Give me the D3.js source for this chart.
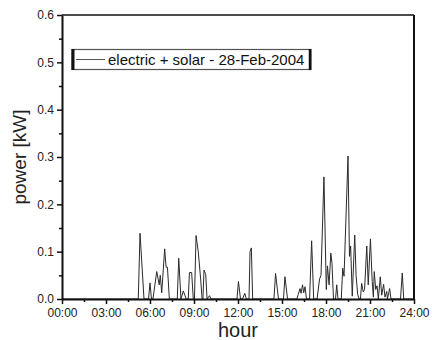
<!DOCTYPE html>
<html>
<head>
<meta charset="utf-8">
<script src="https://cdn.jsdelivr.net/npm/d3@7"></script>
<style>
  body { margin: 0; background: #fff; }
  svg { display: block; font-family: "Liberation Sans", Arial, sans-serif; }
</style>
</head>
<body>
<div id="chart"></div>
<script>
// power readings for 28-Feb-2004 (hour of day, kW)
const hours = [
  0, 5.20, 5.32, 5.59, 5.90, 6.00, 6.10, 6.20, 6.46, 6.63, 6.70, 6.80, 7.00, 7.10, 7.19, 7.32,
  7.86, 7.96, 8.11, 8.27, 8.39, 8.46, 8.61, 8.69, 8.84, 8.95, 9.03, 9.14, 9.29, 9.46, 9.55,
  9.61, 9.68, 9.80, 9.89, 10.06, 10.16,
  11.93, 12.03, 12.17, 12.31, 12.46, 12.57, 12.75, 12.82, 12.91, 13.00,
  14.45, 14.56, 14.76, 15.10, 15.20, 15.38,
  16.02, 16.11, 16.23, 16.30, 16.40, 16.48, 16.57, 16.67, 16.88, 17.02, 17.16,
  17.39, 17.56, 17.66, 17.86, 18.02, 18.10, 18.21, 18.33, 18.41, 18.51, 18.65, 18.73, 18.82,
  19.04, 19.14, 19.23, 19.50, 19.60, 19.68, 19.79, 19.96, 20.05, 20.16, 20.25,
  20.35, 20.43, 20.54, 20.63, 20.78, 20.88, 21.03, 21.15, 21.23, 21.29, 21.39, 21.48, 21.57,
  21.70, 21.80, 21.93, 22.02, 22.14, 22.19, 22.34, 22.43,
  23.08, 23.20, 23.30, 24
];
const power = [
  0, 0, 0.139, 0, 0, 0.034, 0, 0, 0.058, 0.030, 0.050, 0.013, 0.106, 0.067, 0.067, 0,
  0, 0.086, 0, 0.017, 0.007, 0, 0, 0.056, 0.056, 0, 0, 0.134, 0.100, 0.040, 0,
  0, 0.061, 0.052, 0, 0.007, 0,
  0, 0.037, 0, 0, 0.012, 0, 0, 0.100, 0.108, 0,
  0, 0.054, 0, 0, 0.047, 0,
  0, 0.010, 0.022, 0.012, 0.030, 0.013, 0.026, 0, 0, 0.123, 0,
  0, 0.042, 0.050, 0.258, 0.020, 0.070, 0.030, 0.097, 0.075, 0, 0, 0.030, 0,
  0, 0.065, 0.048, 0.302, 0.090, 0.112, 0.006, 0.135, 0.050, 0.010, 0,
  0, 0.033, 0.015, 0.020, 0.112, 0.030, 0.127, 0.037, 0.004, 0.058, 0.020, 0.028, 0,
  0.047, 0.008, 0.031, 0.004, 0.016, 0, 0.022, 0,
  0, 0.055, 0, 0
];

const xTicks = [0, 3, 6, 9, 12, 15, 18, 21, 24];
const xMinorTicks = [1.5, 4.5, 7.5, 10.5, 13.5, 16.5, 19.5, 22.5];
const yTicks = [0, 0.1, 0.2, 0.3, 0.4, 0.5, 0.6];
const yMinorTicks = [0.05, 0.15, 0.25, 0.35, 0.45, 0.55];
const legendLabel = "electric + solar - 28-Feb-2004";

const width = 432, height = 340;
//plot frame edges
const marginTop = 15, marginRight = 18, marginBottom = 41, marginLeft = 62;

const data = hours.map((h, i) => ({ hour: h, value: power[i] }));

const x = d3.scaleLinear()
  .domain([0, 24])
  .range([marginLeft, width - marginRight]);

const y = d3.scaleLinear()
  .domain([0, 0.6])
  .range([height - marginBottom, marginTop]);

const svg = d3.select("#chart").append("svg")
  .attr("width", width)
  .attr("height", height)
  .attr("viewBox", [0, 0, width, height]);

// the data line
const line = d3.line()
  .x(d => x(d.hour))
  .y(d => y(d.value));

svg.append("path")
  .datum(data)
  .attr("fill", "none")
  .attr("stroke", "#2a2a2a")
  .attr("stroke-width", 1)
  .attr("stroke-linejoin", "miter")
  .attr("d", line);

// frame: thin top, thick right
svg.append("line")
  .attr("x1", x(0)).attr("x2", x(24))
  .attr("y1", y(0.6)).attr("y2", y(0.6))
  .attr("stroke", "#111").attr("stroke-width", 1.3);
svg.append("line")
  .attr("x1", x(24)).attr("x2", x(24))
  .attr("y1", y(0.6)).attr("y2", y(0))
  .attr("stroke", "#111").attr("stroke-width", 2);

// axes
function styleAxis(g) {
  g.select(".domain").attr("stroke", "#111").attr("stroke-width", 2);
  g.selectAll(".tick line").attr("stroke", "#111").attr("stroke-width", 1.5);
  g.selectAll(".tick text")
    .attr("fill", "#222")
    .attr("font-size", "12px")
    .attr("font-family", "'Liberation Sans', Arial, sans-serif");
}

svg.append("g")
  .attr("transform", `translate(0,${y(0)})`)
  .call(d3.axisBottom(x).tickValues(xMinorTicks).tickSize(3).tickFormat("").tickSizeOuter(0))
  .call(g => g.select(".domain").remove())
  .call(g => g.selectAll(".tick line").attr("stroke", "#111").attr("stroke-width", 1.5));

svg.append("g")
  .attr("transform", `translate(0,${y(0)})`)
  .call(d3.axisBottom(x)
    .tickValues(xTicks)
    .tickSize(5)
    .tickSizeOuter(0)
    .tickPadding(4)
    .tickFormat(d => String(d).padStart(2, "0") + ":00"))
  .call(styleAxis);

svg.append("g")
  .attr("transform", `translate(${x(0)},0)`)
  .call(d3.axisLeft(y).tickValues(yMinorTicks).tickSize(3).tickFormat("").tickSizeOuter(0))
  .call(g => g.select(".domain").remove())
  .call(g => g.selectAll(".tick line").attr("stroke", "#111").attr("stroke-width", 1.5));

svg.append("g")
  .attr("transform", `translate(${x(0)},0)`)
  .call(d3.axisLeft(y)
    .tickValues(yTicks)
    .tickSize(5)
    .tickSizeOuter(0)
    .tickPadding(3)
    .tickFormat(d3.format(".1f")))
  .call(styleAxis);

// axis titles
svg.append("text")
  .text("hour")
  .attr("x", (x(0) + x(24)) / 2)
  .attr("y", 337)
  .attr("text-anchor", "middle")
  .attr("font-size", "20px")
  .attr("fill", "#222");

svg.append("text")
  .text("power [kW]")
  .attr("transform", `translate(26,${(y(0) + y(0.6)) / 2}) rotate(-90)`)
  .attr("text-anchor", "middle")
  .attr("font-size", "19px")
  .attr("fill", "#222");

// legend box
const legend = svg.append("g");
legend.append("rect")
  .attr("x", 72).attr("y", 49.5)
  .attr("width", 239).attr("height", 20)
  .attr("fill", "#fff")
  .attr("stroke", "#555")
  .attr("stroke-width", 1.2);
legend.append("line")
  .attr("x1", 73).attr("x2", 73).attr("y1", 49).attr("y2", 70)
  .attr("stroke", "#111").attr("stroke-width", 3);
legend.append("line")
  .attr("x1", 310).attr("x2", 310).attr("y1", 49).attr("y2", 70)
  .attr("stroke", "#111").attr("stroke-width", 2.5);
legend.append("line")
  .attr("x1", 76).attr("x2", 105).attr("y1", 59.5).attr("y2", 59.5)
  .attr("stroke", "#555").attr("stroke-width", 1);
legend.append("text")
  .text(legendLabel)
  .attr("x", 108).attr("y", 65)
  .attr("font-size", "15px")
  .attr("fill", "#111");
</script>
</body>
</html>
